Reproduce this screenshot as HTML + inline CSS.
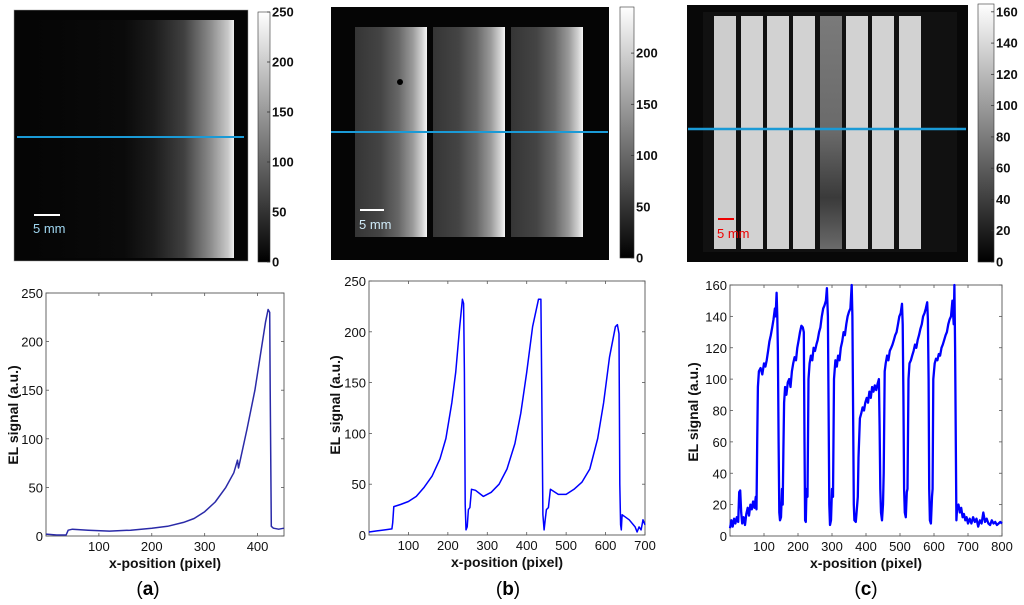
<!DOCTYPE html>
<html><head><meta charset="utf-8">
<style>
html,body{margin:0;padding:0;background:#fff;}
svg{display:block;}
text{font-family:"Liberation Sans",Arial,sans-serif;}
</style></head>
<body>
<svg id="fig" width="1024" height="605" viewBox="0 0 1024 605" xmlns="http://www.w3.org/2000/svg">
<defs>
  <linearGradient id="gA" x1="0" x2="1" y1="0" y2="0">
    <stop offset="0" stop-color="#050505"/><stop offset="0.45" stop-color="#0a0a0a"/>
    <stop offset="0.6" stop-color="#1c1c1c"/><stop offset="0.75" stop-color="#404040"/>
    <stop offset="0.88" stop-color="#8a8a8a"/><stop offset="0.97" stop-color="#c8c8c8"/>
    <stop offset="1" stop-color="#f0f0f0"/>
  </linearGradient>
  <linearGradient id="gB" x1="0" x2="1" y1="0" y2="0">
    <stop offset="0" stop-color="#353535"/><stop offset="0.35" stop-color="#444"/>
    <stop offset="0.6" stop-color="#666"/><stop offset="0.8" stop-color="#999"/>
    <stop offset="0.93" stop-color="#d0d0d0"/><stop offset="1" stop-color="#f5f5f5"/>
  </linearGradient>
  <linearGradient id="gC5" x1="0" x2="0" y1="0" y2="1">
    <stop offset="0" stop-color="#7a7a7a"/><stop offset="0.5" stop-color="#6a6a6a"/>
    <stop offset="0.78" stop-color="#3a3a3a"/><stop offset="1" stop-color="#6a6a6a"/>
  </linearGradient>
  <linearGradient id="gCB" x1="0" x2="0" y1="1" y2="0">
    <stop offset="0" stop-color="#000"/><stop offset="1" stop-color="#fff"/>
  </linearGradient>
</defs>

<g>
  <rect x="14" y="10" width="234" height="251" fill="#050505" stroke="#999" stroke-width="0.5"/>
  <rect x="34" y="20" width="200" height="238" fill="url(#gA)"/>
  <line x1="17" y1="137" x2="244" y2="137" stroke="#1a9ad6" stroke-width="2"/>
  <line x1="34" y1="215" x2="60" y2="215" stroke="#fff" stroke-width="2"/>
  <text x="33" y="233" fill="#9fd6f0" font-size="13">5 mm</text>
</g>
<g>
  <rect x="258" y="12" width="12" height="250" fill="url(#gCB)" stroke="#333" stroke-width="0.6"/>
</g>
<g>
  <rect x="331" y="7" width="278" height="253" fill="#050505"/>
  <rect x="355" y="27" width="72" height="210" fill="url(#gB)"/>
  <rect x="433" y="27" width="72" height="210" fill="url(#gB)"/>
  <rect x="511" y="27" width="72" height="210" fill="url(#gB)"/>
  <circle cx="400" cy="82" r="3" fill="#000"/>
  <line x1="331" y1="132" x2="608" y2="132" stroke="#1a9ad6" stroke-width="2"/>
  <line x1="360" y1="210" x2="384" y2="210" stroke="#fff" stroke-width="2"/>
  <text x="359" y="229" fill="#cfeaf7" font-size="13">5 mm</text>
</g>
<g>
  <rect x="620" y="7" width="14" height="251" fill="url(#gCB)" stroke="#333" stroke-width="0.6"/>
</g>
<g>
  <rect x="687" y="5" width="281" height="257" fill="#080808"/>
  <rect x="703" y="12" width="254" height="240" fill="#111"/>
  <g id="cstrips"></g>
  <line x1="688" y1="129" x2="966" y2="129" stroke="#1a9ad6" stroke-width="2.5"/>
  <line x1="718" y1="219" x2="734" y2="219" stroke="#e00" stroke-width="2"/>
  <text x="717" y="238" fill="#e00" font-size="13">5 mm</text>
</g>
<g>
  <rect x="978" y="4" width="16" height="258" fill="url(#gCB)" stroke="#333" stroke-width="0.6"/>
</g>
<g id="plots"></g>
<text x="148" y="595" font-family="'Liberation Serif',serif" font-size="19" text-anchor="middle">(<tspan font-weight="bold">a</tspan>)</text>
<text x="508" y="595" font-family="'Liberation Serif',serif" font-size="19" text-anchor="middle">(<tspan font-weight="bold">b</tspan>)</text>
<text x="866" y="595" font-family="'Liberation Serif',serif" font-size="19" text-anchor="middle">(<tspan font-weight="bold">c</tspan>)</text>
</svg>
<script>
const NS="http://www.w3.org/2000/svg";
const cbTicksA=[0,50,100,150,200,250];
const cbTicksB=[0,50,100,150,200];
const cbTicksC=[0,20,40,60,80,100,120,140,160];
const cStripBrightness=[205,210,210,210,115,210,210,210];
const aX=[0,20,38,42,50,80,120,160,200,230,260,280,300,320,340,355,362,364,366,380,395,405,415,420,423,424,426,430,440,450];
const aY=[2,1,1,6,7,6,5,6,8,10,14,18,25,35,50,65,78,70,75,110,150,185,220,233,230,150,10,8,7,8];
const aXTicks=[100,200,300,400];
const aYTicks=[0,50,100,150,200,250];
const bX=[0,20,40,58,60,63,80,100,120,140,160,180,195,210,220,230,237,240,242,244,246,249,252,256,260,270,290,310,330,350,370,385,400,415,430,436,438,441,444,447,450,455,460,480,500,520,540,560,580,595,610,625,630,634,636,638,640,642,660,675,680,685,690,695,700];
const bY=[3,4,5,6,12,28,30,33,38,47,58,75,95,130,160,205,232,228,160,30,5,8,25,27,45,44,38,42,50,65,90,120,160,205,232,232,150,20,5,15,25,27,45,40,40,45,52,65,95,130,175,205,207,198,50,10,5,20,15,8,3,8,5,15,10];
const bXTicks=[100,200,300,400,500,600,700];
const bYTicks=[0,50,100,150,200,250];
const cX=[0,4,8,12,16,20,24,27,30,33,36,40,44,48,52,56,60,64,68,72,76,78,80,82,85,90,95,100,104,108,112,116,120,124,128,132,134,137,139,141,143,145,147,150,153,155,157,159,162,166,170,174,178,182,186,190,194,198,202,206,210,214,217,219,221,223,225,228,231,234,238,242,246,250,254,258,262,266,270,274,278,282,285,288,290,292,294,297,300,303,306,310,314,318,322,326,330,334,338,342,346,350,354,358,360,362,364,366,370,374,376,378,382,386,390,394,398,402,406,410,414,418,422,426,430,434,438,440,442,444,447,450,452,455,458,462,466,470,474,478,482,486,490,494,498,502,506,508,510,512,514,517,520,522,525,528,532,536,540,544,548,552,556,560,564,568,572,576,580,582,584,586,588,591,594,596,598,602,606,610,614,618,622,626,630,634,638,642,646,650,654,658,660,662,664,666,668,672,676,680,684,688,692,696,700,705,710,715,720,725,730,735,740,745,750,755,760,765,770,775,780,785,790,795,800];
const cY=[5,10,6,11,8,12,9,28,29,15,8,12,7,14,18,13,20,17,22,18,25,17,60,95,105,107,103,110,108,112,118,124,128,133,138,145,140,155,140,118,60,15,10,12,30,20,55,85,95,90,98,100,95,105,110,114,112,120,125,130,134,133,130,60,10,9,30,25,100,110,115,112,120,118,122,125,130,133,140,145,147,150,158,140,80,20,7,10,30,25,100,112,108,115,112,120,124,130,128,135,140,143,145,160,140,80,20,10,9,20,25,50,75,78,82,80,85,88,85,92,88,95,92,96,93,97,100,70,30,15,10,20,40,105,110,115,112,118,120,122,125,128,130,135,140,142,148,135,90,30,15,12,28,30,100,110,112,115,118,122,120,125,128,132,135,140,142,145,149,138,100,30,10,8,25,30,100,110,113,112,116,115,120,122,125,128,130,135,138,140,150,135,160,120,60,10,18,20,15,18,12,14,10,12,8,11,8,12,9,11,6,10,8,15,9,11,8,7,10,8,9,7,8,9,8];
const cXTicks=[100,200,300,400,500,600,700,800];
const cYTicks=[0,20,40,60,80,100,120,140,160];

const plots=document.getElementById('plots');
function mk(tag,attrs,parent){const e=document.createElementNS(NS,tag);for(const k in attrs)e.setAttribute(k,attrs[k]);(parent||plots).appendChild(e);return e;}

function colorbar(ticks,vmax,x,w,top,bot,name){
  const g=mk('g',{});
  
  
  ticks.forEach(v=>{
    const y=bot-(v/vmax)*(bot-top);
    mk('line',{x1:x+w-3,x2:x+w,y1:y,y2:y,stroke:'#333','stroke-width':0.8},g);
    const t=mk('text',{x:x+w+2,y:y+4.5,'font-size':13,'font-weight':'bold',fill:'#111'},g);
    
    
    t.textContent=v;
  });
}
colorbar(cbTicksA,250,258,12,12,262,'colorbar-a');
colorbar(cbTicksB,245,620,14,7,258,'colorbar-b');
colorbar(cbTicksC,165,978,16,4,262,'colorbar-c');

const cs=document.getElementById('cstrips');
const stripX=[714,741,767,793,820,846,872,899];
cStripBrightness.forEach((b,i)=>{
  const r=mk('rect',{x:stripX[i],y:16,width:22,height:233,fill:i===4?'url(#gC5)':`rgb(${b},${b},${b})`},cs);
  
  
});

function plot(cfg){
  const {L,R,T,B,xmax,ymax,xs,ys,xt,yt,color,name,ylabX,ylabY}=cfg;
  const sx=v=>L+(v/xmax)*(R-L), sy=v=>B-(v/ymax)*(B-T);
  const g=mk('g',{});
  
  
  const box=mk('rect',{x:L,y:T,width:R-L,height:B-T,fill:'#fff',stroke:'#555','stroke-width':0.9},g);
  
  
  xt.forEach(v=>{
    const x=sx(v);
    mk('line',{x1:x,x2:x,y1:B,y2:B-3,stroke:'#555','stroke-width':0.8},g);
    mk('line',{x1:x,x2:x,y1:T,y2:T+3,stroke:'#555','stroke-width':0.8},g);
    const t=mk('text',{x:x,y:B+15,'font-size':13,'text-anchor':'middle',fill:'#111'},g);
    
    
    t.textContent=v;
  });
  yt.forEach(v=>{
    const y=sy(v);
    mk('line',{x1:L,x2:L+3,y1:y,y2:y,stroke:'#555','stroke-width':0.8},g);
    mk('line',{x1:R,x2:R-3,y1:y,y2:y,stroke:'#555','stroke-width':0.8},g);
    const t=mk('text',{x:L-3,y:y+5,'font-size':13,'text-anchor':'end',fill:'#111'},g);
    
    
    t.textContent=v;
  });
  const d=xs.map((v,i)=>(i?'L':'M')+sx(v).toFixed(1)+','+sy(ys[i]).toFixed(1)).join(' ');
  const p=mk('path',{d:d,fill:'none',stroke:color,'stroke-width':cfg.sw||1.5,'stroke-linejoin':'round'},g);
  
  
  const xl=mk('text',{x:(L+R)/2,y:B+32,'font-size':14,'font-weight':'bold','text-anchor':'middle',fill:'#111'},g);
  
  
  xl.textContent='x-position (pixel)';
  const yl=mk('text',{x:ylabX,y:ylabY,'font-size':14,'font-weight':'bold','text-anchor':'middle',fill:'#111',transform:`rotate(-90 ${ylabX} ${ylabY})`},g);
  
  
  yl.textContent='EL signal (a.u.)';
}
plot({L:46,R:284,T:293,B:536,xmax:450,ymax:250,xs:aX,ys:aY,xt:aXTicks,yt:aYTicks,color:'#2a2aa8',name:'plot-a',ylabX:18,ylabY:415});
plot({L:369,R:645,T:281,B:535,xmax:700,ymax:250,xs:bX,ys:bY,xt:bXTicks,yt:bYTicks,color:'#0000ff',name:'plot-b',ylabX:340,ylabY:405});
plot({L:730,R:1002,T:285,B:536,xmax:800,ymax:160,xs:cX,ys:cY,xt:cXTicks,yt:cYTicks,color:'#0000ff',name:'plot-c',ylabX:698,ylabY:412,sw:2.3});
</script>
</body></html>
